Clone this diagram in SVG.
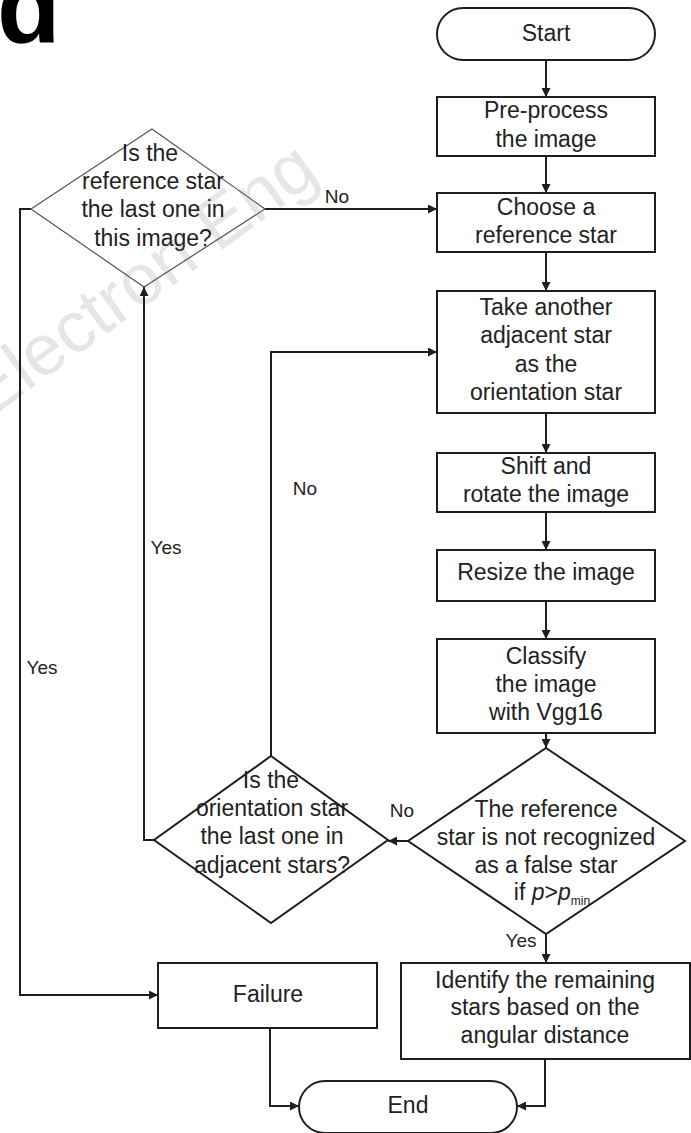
<svg xmlns="http://www.w3.org/2000/svg" width="691" height="1133" viewBox="0 0 691 1133">
<style>
.n{fill:#fff;stroke:#1e1e1e;stroke-width:2}
.thin{fill:none;stroke:#555;stroke-width:1.2}
.t{font-family:"Liberation Sans",Arial,sans-serif;font-size:23px;fill:#222;text-anchor:middle}
.l{font-family:"Liberation Sans",Arial,sans-serif;font-size:19px;fill:#222;text-anchor:middle}
.c{fill:none;stroke:#1e1e1e;stroke-width:2}
</style>
<defs>
<marker id="ah" viewBox="0 0 10 10" refX="10" refY="5" markerWidth="9" markerHeight="9" markerUnits="userSpaceOnUse" orient="auto">
<path d="M0,0 L10,5 L0,10 Z" fill="#1e1e1e"/>
</marker>
</defs>
<rect width="691" height="1133" fill="#fff"/>
<text x="-3" y="42" font-family="Liberation Sans,Arial,sans-serif" font-weight="bold" font-size="104" fill="#000">d</text>
<text x="-12" y="420" transform="rotate(-36 -12 420)" font-family="Liberation Sans,Arial,sans-serif" font-size="72" fill="#e6e6e6">Electron Eng</text>
<g id="connectors">
<path class="c" d="M546,60 V97" marker-end="url(#ah)"/>
<path class="c" d="M546,156 V193" marker-end="url(#ah)"/>
<path class="c" d="M546,252 V291" marker-end="url(#ah)"/>
<path class="c" d="M546,413 V453" marker-end="url(#ah)"/>
<path class="c" d="M546,512 V550" marker-end="url(#ah)"/>
<path class="c" d="M546,601 V639" marker-end="url(#ah)"/>
<path class="c" d="M546,733 V748" marker-end="url(#ah)"/>
<path class="c" d="M408,841 H388" marker-end="url(#ah)"/>
<path class="c" d="M546,934 V963" marker-end="url(#ah)"/>
<path class="c" d="M271,756 V352 H437" marker-end="url(#ah)"/>
<path class="c" d="M154,840 H144 V287" marker-end="url(#ah)"/>
<path class="c" d="M265,209 H437" marker-end="url(#ah)"/>
<path class="c" d="M31,209 H20 V995 H158" marker-end="url(#ah)"/>
<path class="c" d="M270,1028 V1106 H299" marker-end="url(#ah)"/>
<path class="c" d="M545,1059 V1106 H517" marker-end="url(#ah)"/>
<text class="l" x="337" y="203">No</text>
<text class="l" x="305" y="495">No</text>
<text class="l" x="166" y="554">Yes</text>
<text class="l" x="42" y="674">Yes</text>
<text class="l" x="402" y="817">No</text>
<text class="l" x="521" y="947">Yes</text>
</g>
<g id="start">
<rect class="n" x="437" y="8" width="218" height="52" rx="26"/>
<text class="t" x="546" y="41">Start</text>
</g>
<g id="preprocess">
<rect class="n" x="437" y="97" width="218" height="59"/>
<text class="t" x="546" y="118">Pre-process</text>
<text class="t" x="546" y="147">the image</text>
</g>
<g id="choose">
<rect class="n" x="437" y="193" width="218" height="59"/>
<text class="t" x="546" y="215">Choose a</text>
<text class="t" x="546" y="243">reference star</text>
</g>
<g id="take">
<rect class="n" x="437" y="291" width="218" height="122"/>
<text class="t" x="546" y="315">Take another</text>
<text class="t" x="546" y="343">adjacent star</text>
<text class="t" x="546" y="372">as the</text>
<text class="t" x="546" y="400">orientation star</text>
</g>
<g id="shift">
<rect class="n" x="437" y="453" width="218" height="59"/>
<text class="t" x="546" y="474">Shift and</text>
<text class="t" x="546" y="502">rotate the image</text>
</g>
<g id="resize">
<rect class="n" x="437" y="550" width="218" height="51"/>
<text class="t" x="546" y="580">Resize the image</text>
</g>
<g id="classify">
<rect class="n" x="437" y="639" width="218" height="94"/>
<text class="t" x="546" y="664">Classify</text>
<text class="t" x="546" y="692">the image</text>
<text class="t" x="546" y="720">with Vgg16</text>
</g>
<g id="decision">
<polygon class="n" points="546,748 685,841 546,934 408,841"/>
<text class="t" x="546" y="817">The reference</text>
<text class="t" x="546" y="845">star is not recognized</text>
<text class="t" x="546" y="873">as a false star</text>
<text class="t" x="552" y="900">if <tspan font-style="italic">p</tspan>&gt;<tspan font-style="italic">p</tspan><tspan font-size="12" dy="5">min</tspan></text>
</g>
<g id="lastref">
<polygon class="thin" points="152,129 265,209 144,287 31,209"/>
<text class="t" x="150" y="161">Is the</text>
<text class="t" x="153" y="189">reference star</text>
<text class="t" x="153" y="217">the last one in</text>
<text class="t" x="153" y="246">this image?</text>
</g>
<g id="lastorient">
<polygon class="n" points="271,756 388,840 271,923 154,840"/>
<text class="t" x="271" y="788">Is the</text>
<text class="t" x="272" y="816">orientation star</text>
<text class="t" x="272" y="844">the last one in</text>
<text class="t" x="272" y="873">adjacent stars?</text>
</g>
<g id="failure">
<rect class="n" x="158" y="963" width="219" height="65"/>
<text class="t" x="268" y="1002">Failure</text>
</g>
<g id="identify">
<rect class="n" x="401" y="963" width="289" height="96"/>
<text class="t" x="545" y="988">Identify the remaining</text>
<text class="t" x="545" y="1015">stars based on the</text>
<text class="t" x="545" y="1043">angular distance</text>
</g>
<g id="end">
<rect class="n" x="299" y="1081" width="218" height="52" rx="26"/>
<text class="t" x="408" y="1113">End</text>
</g>
</svg>
